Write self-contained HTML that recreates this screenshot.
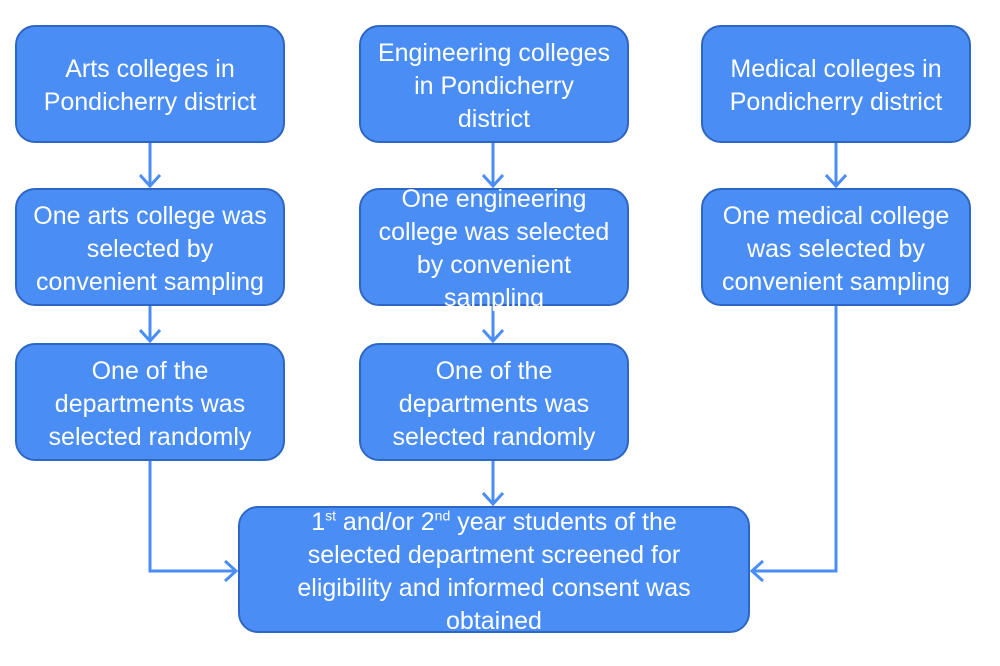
<!DOCTYPE html>
<html><head><style>
body{margin:0;background:#fff;width:1000px;height:666px;position:relative;overflow:hidden;font-family:"Liberation Sans",sans-serif}
.b{position:absolute;box-sizing:border-box;background:#4a8ef5;border:2px solid #2e66c4;border-radius:20px;color:#fff;font-size:25px;line-height:33px;text-align:center;display:flex;align-items:center;justify-content:center;white-space:nowrap;padding-top:4px}
.b span{display:block}
sup{font-size:14px;line-height:0}
svg{position:absolute;left:0;top:0}
</style></head><body>
<svg width="1000" height="666">
<g stroke="#4a8ef5" stroke-width="3" fill="none">
<path d="M150 143V186M140 175L150 186L160 175"/>
<path d="M150 306V341M140 330L150 341L160 330"/>
<path d="M493 143V186M483 175L493 186L503 175"/>
<path d="M493 306V341M483 330L493 341L503 330"/>
<path d="M493 461V504M483 493L493 504L503 493"/>
<path d="M836 143V186M826 175L836 186L846 175"/>
<path d="M150 461V571H236M225 561L236 571L225 581"/>
<path d="M836 306V571H752M763 561L752 571L763 581"/>
</g></svg>
<div class="b" style="left:15px;top:25px;width:270px;height:118px"><span>Arts colleges in<br>Pondicherry district</span></div>
<div class="b" style="left:359px;top:25px;width:270px;height:118px"><span>Engineering colleges<br>in Pondicherry<br>district</span></div>
<div class="b" style="left:701px;top:25px;width:270px;height:118px"><span>Medical colleges in<br>Pondicherry district</span></div>
<div class="b" style="left:15px;top:188px;width:270px;height:118px"><span>One arts college was<br>selected by<br>convenient sampling</span></div>
<div class="b" style="left:359px;top:188px;width:270px;height:118px"><span>One engineering<br>college was selected<br>by convenient<br>sampling</span></div>
<div class="b" style="left:701px;top:188px;width:270px;height:118px"><span>One medical college<br>was selected by<br>convenient sampling</span></div>
<div class="b" style="left:15px;top:343px;width:270px;height:118px"><span>One of the<br>departments was<br>selected randomly</span></div>
<div class="b" style="left:359px;top:343px;width:270px;height:118px"><span>One of the<br>departments was<br>selected randomly</span></div>
<div class="b" style="left:238px;top:506px;width:512px;height:127px"><span>1<sup>st</sup> and/or 2<sup>nd</sup> year students of the<br>selected department screened for<br>eligibility and informed consent was<br>obtained</span></div>
</body></html>
